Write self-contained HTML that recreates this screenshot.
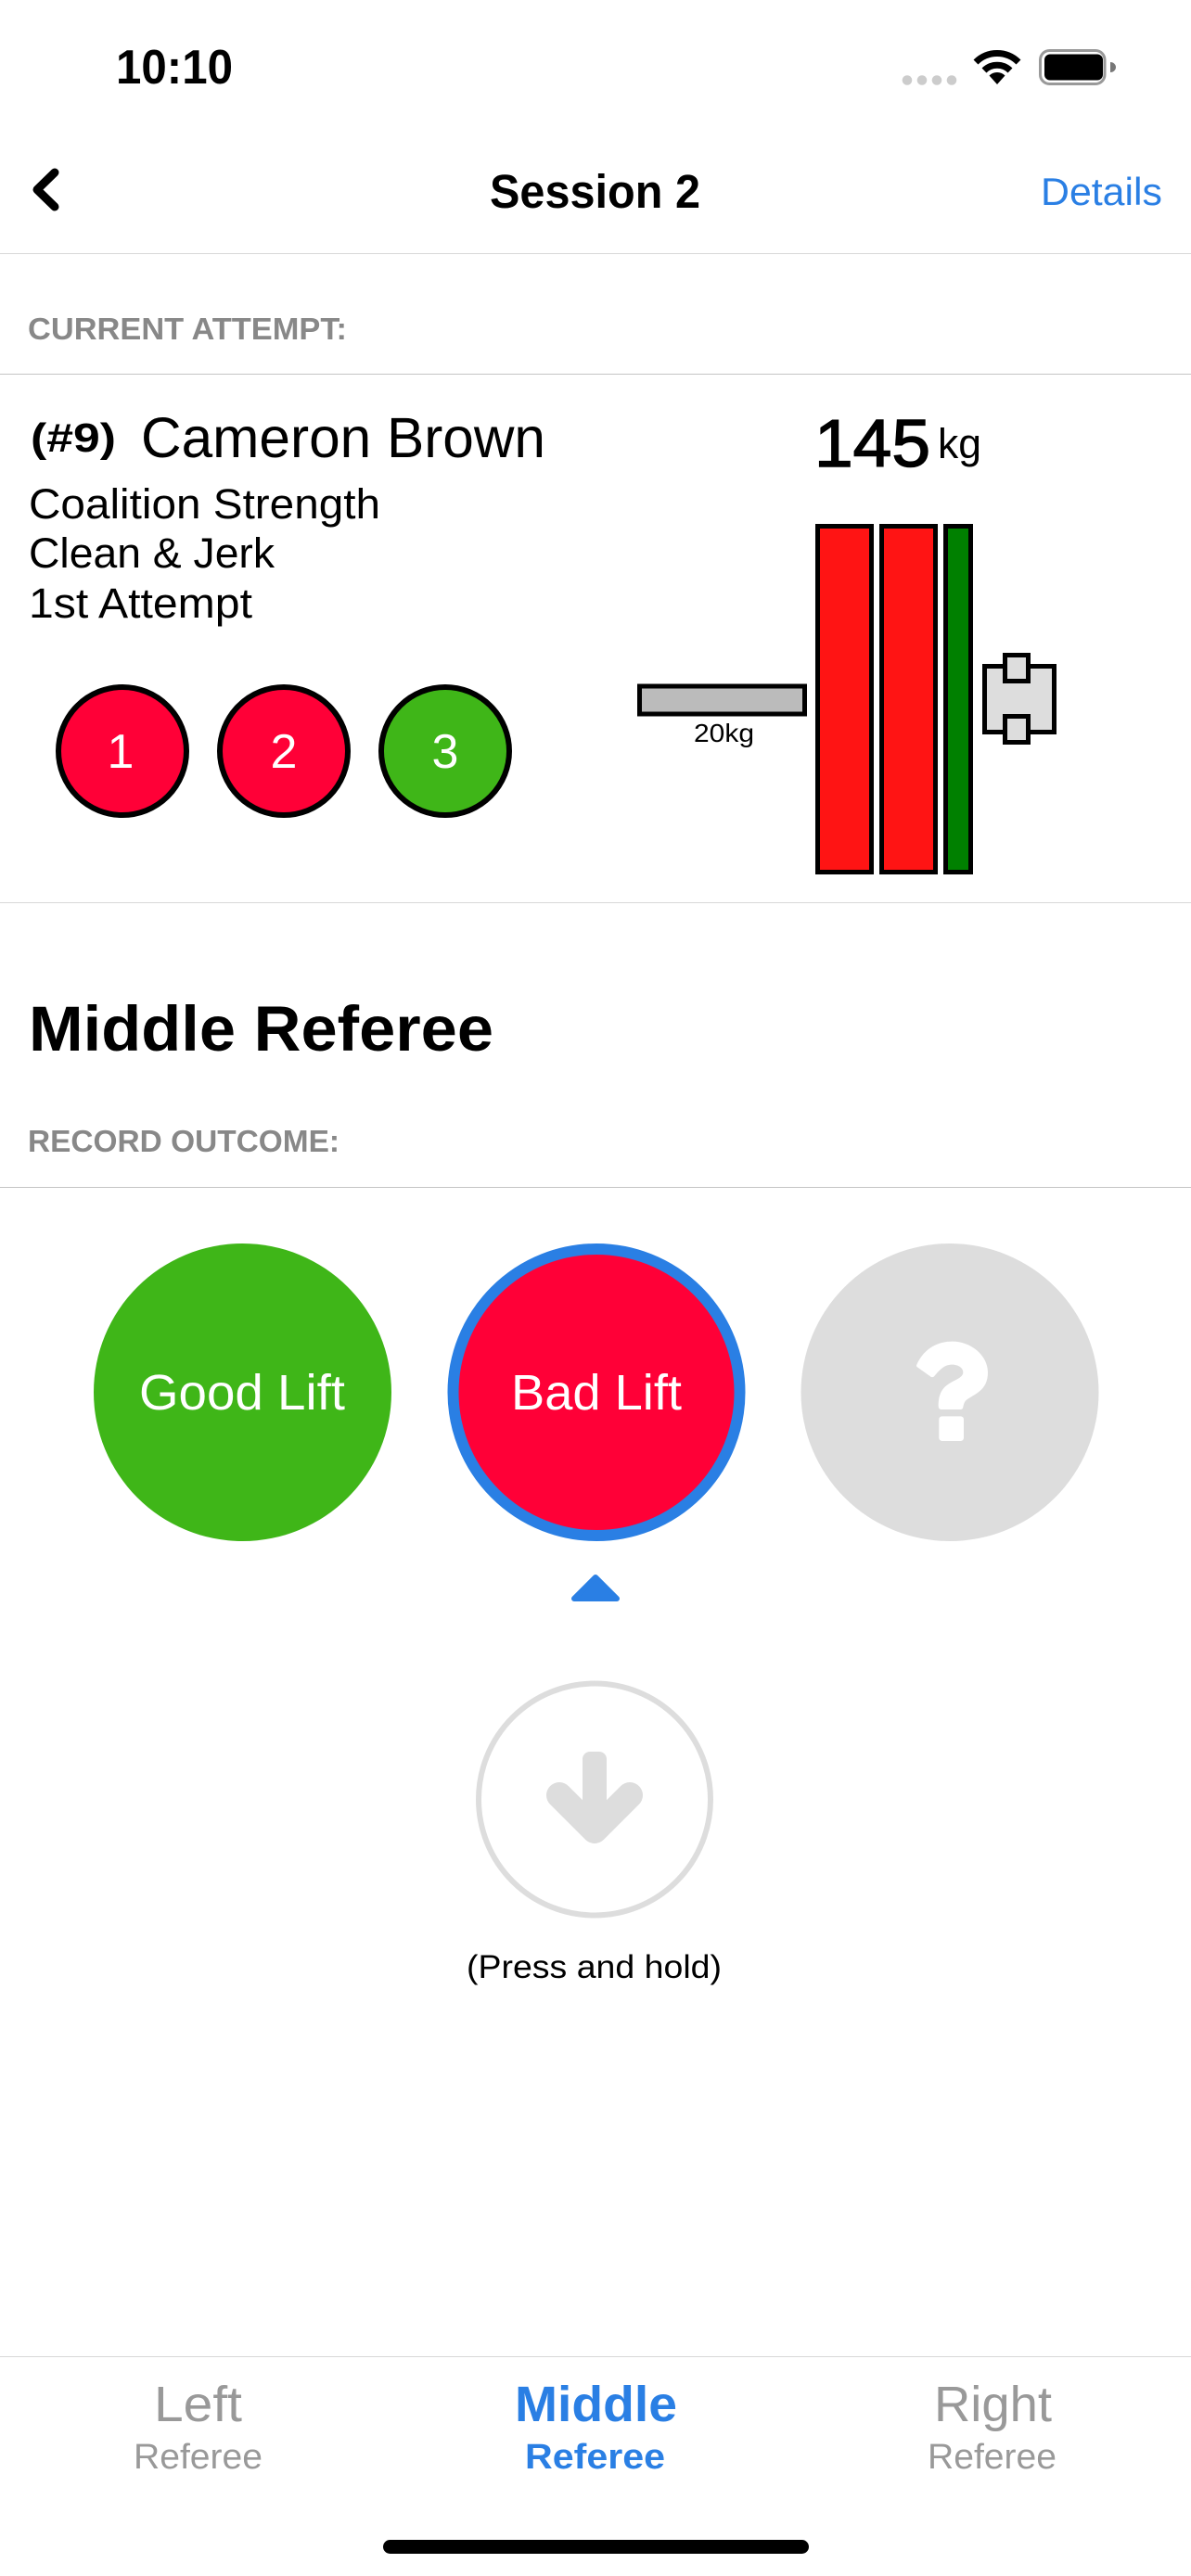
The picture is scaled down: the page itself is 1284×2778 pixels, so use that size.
<!DOCTYPE html>
<html><head><meta charset="utf-8"><title>Middle Referee</title>
<style>
html,body{margin:0;padding:0;background:#fff;width:1284px;height:2778px;overflow:hidden}
svg{display:block}
text{font-family:"Liberation Sans",sans-serif}
</style></head><body>
<svg width="1284" height="2778" viewBox="0 0 1284 2778" xmlns="http://www.w3.org/2000/svg">
<rect width="1284" height="2778" fill="#fff"/>
<!-- status bar -->
<text x="125" y="90" font-size="52" font-weight="700" textLength="126" lengthAdjust="spacingAndGlyphs">10:10</text>
<g fill="#ccc"><circle cx="978" cy="86.500" r="5.300"/><circle cx="994" cy="86.500" r="5.300"/><circle cx="1010" cy="86.500" r="5.300"/><circle cx="1026" cy="86.500" r="5.300"/></g>
<g fill="none" stroke="#000" stroke-width="7"><path d="M1052 67 A32.500 32.500 0 0 1 1098 67"/><path d="M1061 76 A20 20 0 0 1 1089 76"/></g>
<path d="M1075 91 L1066.500 81.500 A12 12 0 0 1 1083.500 81.500 Z" fill="#000"/>
<rect x="1121.500" y="54.500" width="69.500" height="36" rx="10" fill="none" stroke="#999" stroke-width="3"/>
<rect x="1126" y="58.500" width="63" height="28" rx="6" fill="#000"/>
<path d="M1197 67 A6 5.500 0 0 1 1197 78 Z" fill="#777"/>
<!-- nav -->
<path d="M59 186 L40 204.500 L59 223" fill="none" stroke="#000" stroke-width="9" stroke-linecap="round" stroke-linejoin="round"/>
<text x="528" y="224" font-size="51" font-weight="700" textLength="227" lengthAdjust="spacingAndGlyphs">Session 2</text>
<text x="1122" y="221" font-size="42" fill="#2a7fe4" textLength="131" lengthAdjust="spacingAndGlyphs">Details</text>
<rect x="0" y="273" width="1284" height="1" fill="#d8d8d8"/>
<text x="30" y="366" font-size="33" font-weight="700" fill="#888" textLength="344" lengthAdjust="spacingAndGlyphs">CURRENT ATTEMPT:</text>
<rect x="0" y="403" width="1284" height="1" fill="#c4c4c4"/>
<!-- athlete -->
<text x="33" y="487" font-size="44" font-weight="700" textLength="92" lengthAdjust="spacingAndGlyphs">(#9)</text>
<text x="152" y="493" font-size="61" textLength="436" lengthAdjust="spacingAndGlyphs">Cameron Brown</text>
<text x="31" y="559" font-size="45" textLength="379" lengthAdjust="spacingAndGlyphs">Coalition Strength</text>
<text x="31" y="612" font-size="45" textLength="265" lengthAdjust="spacingAndGlyphs">Clean &amp; Jerk</text>
<text x="31" y="666" font-size="45" textLength="241" lengthAdjust="spacingAndGlyphs">1st Attempt</text>
<g stroke="#000" stroke-width="6"><circle cx="132" cy="810" r="69" fill="#ff0037"/><circle cx="306" cy="810" r="69" fill="#ff0037"/><circle cx="480" cy="810" r="69" fill="#3fb618"/></g>
<g font-size="52" fill="#fff" text-anchor="middle"><text x="130" y="828">1</text><text x="306" y="828">2</text><text x="480" y="828">3</text></g>
<!-- weight -->
<text x="878" y="503" font-size="72" stroke="#000" stroke-width="1.500" textLength="125" lengthAdjust="spacingAndGlyphs">145</text>
<text x="1011" y="494" font-size="45" textLength="47" lengthAdjust="spacingAndGlyphs">kg</text>
<!-- barbell -->
<g stroke="#000" stroke-width="5">
<rect x="881.500" y="567.500" width="58" height="373" fill="#ff1414"/>
<rect x="950.500" y="567.500" width="58" height="373" fill="#ff1414"/>
<rect x="1019.500" y="567.500" width="27" height="373" fill="#008000"/>
<rect x="689.500" y="740" width="178" height="30" fill="#bbb"/>
<rect x="1061.500" y="718.500" width="75" height="71" fill="#ddd"/>
<rect x="1083.500" y="706.500" width="25" height="28" fill="#ddd"/>
<rect x="1083.500" y="772.500" width="25" height="28" fill="#ddd"/>
</g>
<text x="748" y="800" font-size="28" textLength="65" lengthAdjust="spacingAndGlyphs">20kg</text>
<rect x="0" y="973" width="1284" height="1" fill="#d8d8d8"/>
<text x="31" y="1133" font-size="69" font-weight="700" textLength="501" lengthAdjust="spacingAndGlyphs">Middle Referee</text>
<text x="30" y="1242" font-size="33" font-weight="700" fill="#888" textLength="336" lengthAdjust="spacingAndGlyphs">RECORD OUTCOME:</text>
<rect x="0" y="1280" width="1284" height="1" fill="#c4c4c4"/>
<!-- outcome buttons -->
<circle cx="261.500" cy="1501.500" r="160.500" fill="#3fb618"/>
<circle cx="643" cy="1501.500" r="154.500" fill="#ff0037" stroke="#2a7fe4" stroke-width="12"/>
<circle cx="1024" cy="1501.500" r="160.500" fill="#ddd"/>
<text x="150" y="1520" font-size="54" fill="#fff" textLength="222" lengthAdjust="spacingAndGlyphs">Good Lift</text>
<text x="551" y="1520" font-size="54" fill="#fff" textLength="184" lengthAdjust="spacingAndGlyphs">Bad Lift</text>
<g transform="translate(970 1430) scale(.33333)" fill="#fff">
<path d="M55 125 C75 80 115 50 170 50 C230 50 285 95 285 150 C285 210 240 220 215 240 C208 246 207 255 205 262 Q204 270 196 270 L135 270 Q125 270 125 258 C125 205 150 190 180 175 C195 168 205 160 205 150 C205 135 188 125 170 125 C145 125 130 140 112 162 C108 167 103 166 99 163 L58 134 Q52 130 55 125 Z"/>
<rect x="127" y="292" width="80" height="80" rx="10"/>
</g>
<path d="M642 1701 L665 1724 L619 1724 Z" fill="#2a7fe4" stroke="#2a7fe4" stroke-width="6" stroke-linejoin="round"/>
<!-- press -->
<circle cx="641" cy="1940.500" r="125" fill="none" stroke="#ddd" stroke-width="6"/>
<rect x="628" y="1889" width="26" height="90" rx="8" fill="#ddd"/>
<path d="M603 1936 L641 1974 L679 1936" fill="none" stroke="#ddd" stroke-width="28" stroke-linecap="round" stroke-linejoin="round"/>
<path d="M641 1981 L625 1965 L657 1965 Z" fill="#ddd" stroke="#ddd" stroke-width="14" stroke-linejoin="round"/>
<text x="503" y="2133" font-size="35" textLength="275" lengthAdjust="spacingAndGlyphs">(Press and hold)</text>
<!-- tabs -->
<rect x="0" y="2541" width="1284" height="1" fill="#d8d8d8"/>
<text x="166" y="2611" font-size="54" fill="#999" textLength="95" lengthAdjust="spacingAndGlyphs">Left</text>
<text x="144" y="2662" font-size="38" fill="#999" textLength="139" lengthAdjust="spacingAndGlyphs">Referee</text>
<text x="555" y="2611" font-size="54" font-weight="700" fill="#2a7fe4" textLength="175" lengthAdjust="spacingAndGlyphs">Middle</text>
<text x="566" y="2662" font-size="38" font-weight="700" fill="#2a7fe4" textLength="151" lengthAdjust="spacingAndGlyphs">Referee</text>
<text x="1007" y="2611" font-size="54" fill="#999" textLength="127" lengthAdjust="spacingAndGlyphs">Right</text>
<text x="1000" y="2662" font-size="38" fill="#999" textLength="139" lengthAdjust="spacingAndGlyphs">Referee</text>
<rect x="413" y="2739" width="459" height="15" rx="7.500" fill="#000"/>
</svg>
</body></html>
